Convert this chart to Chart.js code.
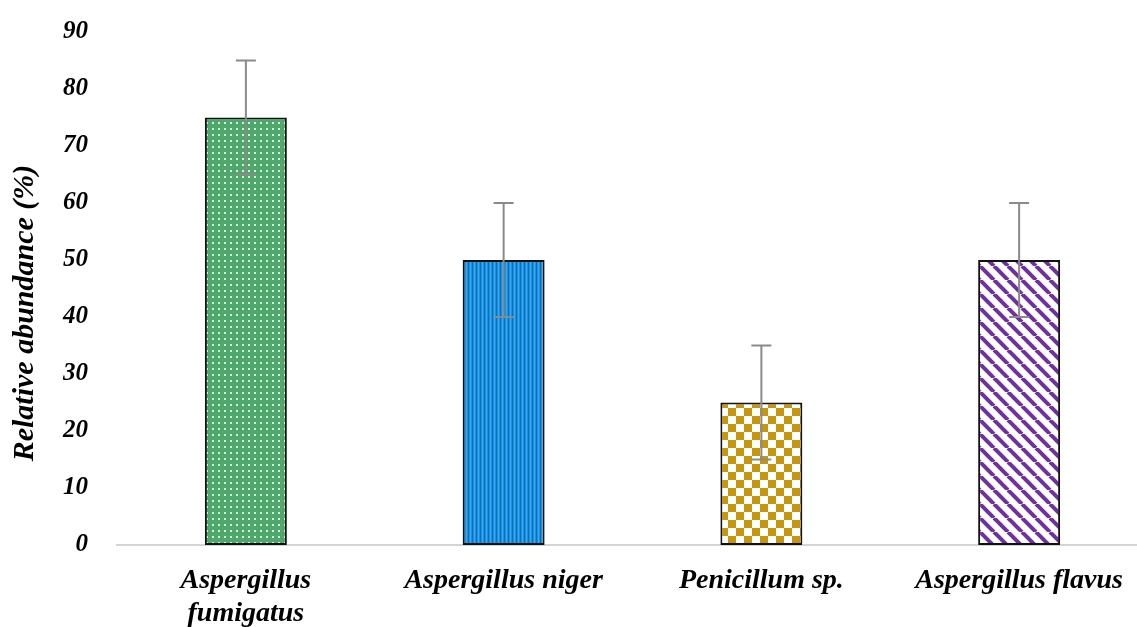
<!DOCTYPE html>
<html><head><meta charset="utf-8">
<script src="https://cdn.jsdelivr.net/npm/chart.js@4"></script>
<style>html,body{margin:0;padding:0;overflow:hidden;background:#fff}#wrap{width:1150px;height:627px;position:relative}</style>
</head><body><div id="wrap"><canvas id="c"></canvas></div>
<script>
const categories = [["Aspergillus","fumigatus"], "Aspergillus niger", "Penicillum sp.", "Aspergillus flavus"];
const values = [75, 50, 25, 50];
const errors = [10, 10, 10, 10];
const yTicks = [0,10,20,30,40,50,60,70,80,90];
const yTitle = 'Relative abundance (%)';

function pat(kind){
  const c=document.createElement('canvas'); const g=c.getContext('2d');
  if(kind==='dots'){c.width=6;c.height=6;g.fillStyle='#4fa86b';g.fillRect(0,0,6,6);g.fillStyle='#d8f0dd';g.fillRect(2,2,2,2);}
  else if(kind==='vlines'){c.width=4;c.height=4;g.fillStyle='#1a90e0';g.fillRect(0,0,4,4);g.fillStyle='#0c6fb8';g.fillRect(0,0,1,4);g.fillStyle='#3aa8f0';g.fillRect(2,0,1,4);}
  else if(kind==='checker'){c.width=16;c.height=16;g.fillStyle='#fff';g.fillRect(0,0,16,16);g.fillStyle='#c8960c';g.fillRect(0,0,8,8);g.fillRect(8,8,8,8);}
  else if(kind==='diag'){c.width=14;c.height=14;g.fillStyle='#fff';g.fillRect(0,0,14,14);g.strokeStyle='#7030a0';g.lineWidth=4;
    for(let o=-14;o<=28;o+=14){g.beginPath();g.moveTo(o,0);g.lineTo(o+14,14);g.stroke();}}
  return g.createPattern(c,'repeat');
}
const fills=[pat('dots'),pat('vlines'),pat('checker'),pat('diag')];
const fam='"Liberation Serif","DejaVu Serif",serif';

const errPlugin={id:'err',afterDatasetsDraw(chart){
  const {ctx,scales:{x,y}}=chart; ctx.save(); ctx.strokeStyle='#8a8a8a'; ctx.lineWidth=2;
  values.forEach((v,i)=>{const cx=x.getPixelForValue(i); const t=y.getPixelForValue(v+errors[i]); const b=y.getPixelForValue(v-errors[i]);
    ctx.beginPath();ctx.moveTo(cx,t);ctx.lineTo(cx,b);ctx.moveTo(cx-10,t);ctx.lineTo(cx+10,t);ctx.moveTo(cx-10,b);ctx.lineTo(cx+10,b);ctx.stroke();});
  ctx.restore();}};

const titlePlugin={id:'ytitle',afterDraw(chart){
  const {ctx,chartArea}=chart; ctx.save();
  ctx.translate(25, chartArea.bottom-232); ctx.rotate(-Math.PI/2);
  ctx.font='italic bold 30px '+fam; ctx.fillStyle='#000'; ctx.textAlign='center'; ctx.textBaseline='middle';
  ctx.fillText(yTitle,0,0); ctx.restore();}};

new Chart(document.getElementById('c'),{
  type:'bar',
  data:{labels:categories,datasets:[{data:values,backgroundColor:fills,borderColor:'#111',borderWidth:2,borderSkipped:false,barPercentage:0.318,categoryPercentage:1}]},
  options:{responsive:true,maintainAspectRatio:false,animation:false,
    layout:{padding:{top:32,left:6,right:2,bottom:0}},
    plugins:{legend:{display:false},tooltip:{enabled:false}},
    scales:{
      x:{afterFit(s){s.height=82;s.paddingLeft=0;s.paddingRight=0;},grid:{display:false,drawTicks:false},border:{display:true,color:'#d4d4d4',width:2},ticks:{color:'#000',font:{family:fam,weight:'bold',style:'italic',size:28,lineHeight:1.15},padding:20,maxRotation:0,autoSkip:false}},
      y:{min:0,max:90,afterFit(s){s.width=111;s.paddingTop=0;s.paddingBottom=0;},afterBuildTicks(s){s.ticks=yTicks.map(v=>({value:v}));},grid:{display:false,drawTicks:false},border:{display:false},
        ticks:{color:'#000',font:{family:fam,weight:'bold',style:'italic',size:25},padding:29},
        title:{display:false}}
    }},
  plugins:[errPlugin,titlePlugin]
});
</script></body></html>
